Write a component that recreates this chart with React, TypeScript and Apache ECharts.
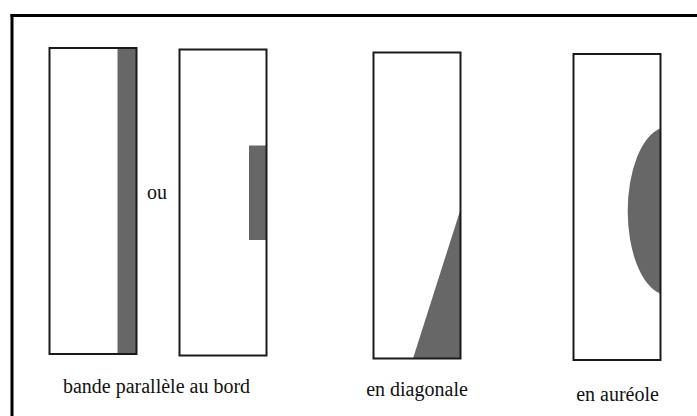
import React, { useEffect, useRef } from "react";
import * as echarts from "echarts";

// Diagram space: x 0..697, y 0..416 (pixels of the reference)
const frameLines = [
  [12, 14, 12, 416],
  [10.5, 15.5, 697, 15.5],
];
// panels: [x0, y0, x1, y1]
const boxes = [
  [49.5, 48, 136.5, 354],
  [179.5, 49.5, 266.5, 355.5],
  [373.5, 52.5, 460.5, 358.5],
  [573.5, 54, 660.5, 360],
];
// shaded bands: [x0, y0, x1, y1]
const bands = [
  [117.5, 48, 136.5, 354],
  [249, 145.5, 266.5, 240],
];
// diagonal wedge points
const diagonal = [
  [460.5, 209.5],
  [460.5, 358.5],
  [413, 358.5],
];
// halo ellipse: [cx, cy, rx, ry], clipped at x = edge
const halo = [668, 211, 40.3, 84.2];
const haloEdge = 660.5;
// labels: [text, x, y]
const labels: [string, number, number][] = [
  ["bande parallèle au bord", 156.5, 386],
  ["ou", 157, 192],
  ["en diagonale", 417, 389],
  ["en auréole", 617.5, 394],
];

const GRAY = "#676767";
const INK = "#1a1a1a";

export default function App() {
  const ref = useRef<HTMLDivElement>(null);
  useEffect(() => {
    const chart = echarts.init(ref.current!, null, { renderer: "svg" });
    const hidden = { show: false };
    chart.setOption({
      animation: false,
      backgroundColor: "#ffffff",
      textStyle: { fontFamily: "serif" },
      grid: { left: 0, top: 0, right: 0, bottom: 0 },
      xAxis: { type: "value", min: 0, max: 697, axisLine: hidden, axisTick: hidden, axisLabel: hidden, splitLine: hidden },
      yAxis: { type: "value", min: 0, max: 416, inverse: true, axisLine: hidden, axisTick: hidden, axisLabel: hidden, splitLine: hidden },
      series: [
        {
          type: "custom",
          clip: false,
          silent: true,
          data: bands.map((_, i) => [i]),
          renderItem: (params: any, api: any) => {
            const b = bands[params.dataIndex];
            const p0 = api.coord([b[0], b[1]]);
            const p1 = api.coord([b[2], b[3]]);
            return {
              type: "rect",
              shape: { x: p0[0], y: p0[1], width: p1[0] - p0[0], height: p1[1] - p0[1] },
              style: { fill: GRAY },
            };
          },
        },
        {
          type: "custom",
          clip: false,
          silent: true,
          data: [[0]],
          renderItem: (_p: any, api: any) => ({
            type: "polygon",
            shape: { points: diagonal.map((pt) => api.coord(pt)) },
            style: { fill: GRAY },
          }),
        },
        {
          type: "custom",
          clip: false,
          silent: true,
          data: [[0]],
          renderItem: (_p: any, api: any) => {
            const [cx, cy, rx, ry] = halo;
            const dx = (haloEdge - cx) / rx;
            const dy = ry * Math.sqrt(1 - dx * dx);
            const top = api.coord([haloEdge, cy - dy]);
            const bot = api.coord([haloEdge, cy + dy]);
            const sz = api.size([rx, ry]);
            const d = `M ${top[0]} ${top[1]} A ${sz[0]} ${sz[1]} 0 0 0 ${bot[0]} ${bot[1]} Z`;
            return {
              type: "path",
              shape: { pathData: d },
              style: { fill: GRAY },
            };
          },
        },
        {
          type: "custom",
          clip: false,
          silent: true,
          data: boxes.map((_, i) => [i]),
          renderItem: (params: any, api: any) => {
            const b = boxes[params.dataIndex];
            const p0 = api.coord([b[0], b[1]]);
            const p1 = api.coord([b[2], b[3]]);
            return {
              type: "rect",
              shape: { x: p0[0], y: p0[1], width: p1[0] - p0[0], height: p1[1] - p0[1] },
              style: { fill: "none", stroke: INK, lineWidth: 2 },
            };
          },
        },
        {
          type: "custom",
          clip: false,
          silent: true,
          data: frameLines.map((_, i) => [i]),
          renderItem: (params: any, api: any) => {
            const l = frameLines[params.dataIndex];
            const p0 = api.coord([l[0], l[1]]);
            const p1 = api.coord([l[2], l[3]]);
            return {
              type: "line",
              shape: { x1: p0[0], y1: p0[1], x2: p1[0], y2: p1[1] },
              style: { stroke: "#000000", lineWidth: 3 },
            };
          },
        },
      ],
      graphic: labels.map(([t, x, y]) => ({
        type: "text",
        x,
        y,
        style: {
          text: t,
          align: "center",
          verticalAlign: "middle",
          fill: "#111",
          font: "20px serif",
        },
      })),
    });
    return () => chart.dispose();
  }, []);
  return (
    <div
      ref={ref}
      style={{ position: "fixed", left: 0, top: 0, width: 697, height: 416, background: "#fff" }}
    />
  );
}
